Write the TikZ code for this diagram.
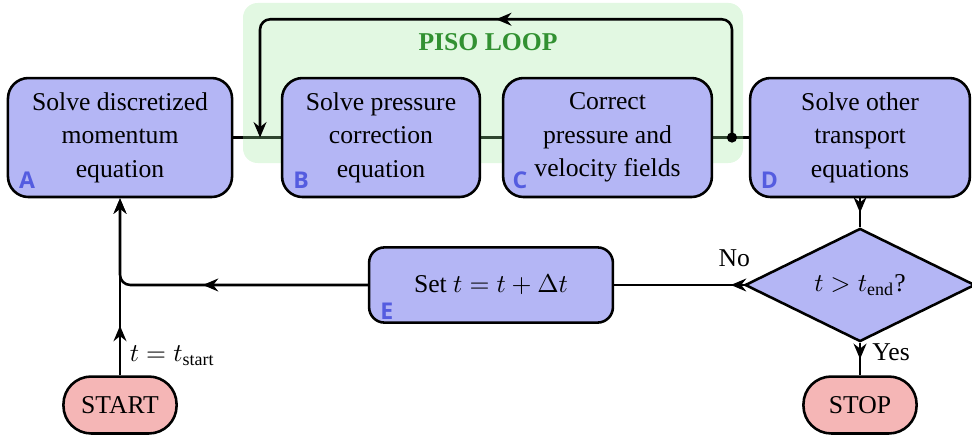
\documentclass[tikz,border=0pt]{standalone}
\usepackage{fontspec}
\usepackage{amsmath}
\setmainfont{Liberation Serif}
\newfontfamily\tagfont{Open Sans}
\usetikzlibrary{shapes.geometric,arrows.meta,decorations.markings,backgrounds}

\definecolor{boxblu}{RGB}{180,182,245}
\definecolor{boxred}{RGB}{245,182,182}
\definecolor{pisogrn}{RGB}{158,232,158}
\definecolor{pisotxt}{RGB}{50,145,50}
\definecolor{tagblu}{RGB}{84,92,224}

\begin{document}
\begin{tikzpicture}[line width=1pt,
    >={Stealth[length=6pt,width=5pt]},
    box/.style={draw,fill=boxblu,rounded corners=8pt,align=center,
        minimum height=1.63cm,font=\fontsize{10}{13}\selectfont},
    term/.style={draw,fill=boxred,rounded corners=0.38cm,
        minimum width=1.55cm,minimum height=0.78cm},
    test/.style={draw,fill=boxblu,diamond,inner sep=0pt,
        minimum width=3.15cm,minimum height=1.55cm},
    tag/.style={text=tagblu,font=\tagfont\bfseries\small},
    midarrow/.style={postaction={decorate,decoration={markings,
        mark=at position #1 with {\arrow{>}}}}},
    midarrow/.default=0.5]
    \useasboundingbox (0,0) rectangle (13.315,-5.986);
    %
    \node[box,minimum width=3.07cm] (A) at (1.644,-1.884) {Solve discretized\\momentum\\equation};
    \node[box,minimum width=2.71cm] (B) at (5.219,-1.884) {Solve pressure\\correction\\equation};
    \node[box,minimum width=2.86cm] (C) at (8.322,-1.884) {Correct\\pressure and\\velocity fields};
    \node[box,minimum width=3.01cm] (D) at (11.781,-1.884) {Solve other\\transport\\equations};
    \node[box,minimum width=3.34cm,minimum height=1.03cm,rounded corners=6pt] (E) at (6.726,-3.904) {Set $t=t+\Delta t$};
    \node[test] (T) at (11.781,-3.904) {$t>t_{\text{end}}$?};
    \node[term] (start) at (1.644,-5.548) {START};
    \node[term] (stop) at (11.781,-5.548) {STOP};
    %
    \node[tag] at ([shift={(0.28,0.25)}]A.south west) {A};
    \node[tag] at ([shift={(0.28,0.25)}]B.south west) {B};
    \node[tag] at ([shift={(0.25,0.25)}]C.south west) {C};
    \node[tag] at ([shift={(0.28,0.25)}]D.south west) {D};
    \node[tag] at ([shift={(0.26,0.17)}]E.south west) {E};
    %
    \coordinate (merge) at (3.562,-1.884);
    \coordinate (split) at (10.027,-1.884);
    %
    \begin{scope}[on background layer]
        \draw[line width=1pt] (A) -- (B);
        \draw[line width=1pt] (B) -- (C);
        \draw[line width=1pt] (C) -- (D);
        \fill[pisogrn,fill opacity=0.3,rounded corners=0.2cm] (3.329,-0.041) rectangle (10.178,-2.233);
    \end{scope}
    \node[text=pisotxt,font=\bfseries] (piso) at (6.685,-0.575) {PISO LOOP};
    %
    \draw[->,midarrow,rounded corners=4pt] (split) -- ++(0,1.62) -| (merge);
    \fill (split) circle (0.07);
    %
    \draw[midarrow] (D) -- (T);
    \draw[midarrow] (T) -- node[pos=0.3,right,xshift=1pt] {Yes} (stop);
    \draw[midarrow=0.1] (T) -- node[pos=0,above left,xshift=0.22cm,yshift=0.12cm] {No} (E);
    \draw[->,midarrow,rounded corners=4pt] (E) -| (A);
    \draw[->,midarrow=0.28] (start) -- node[pos=0.11,right] {$t=t_{\text{start}}$} (A);
    %
\end{tikzpicture}
\end{document}
